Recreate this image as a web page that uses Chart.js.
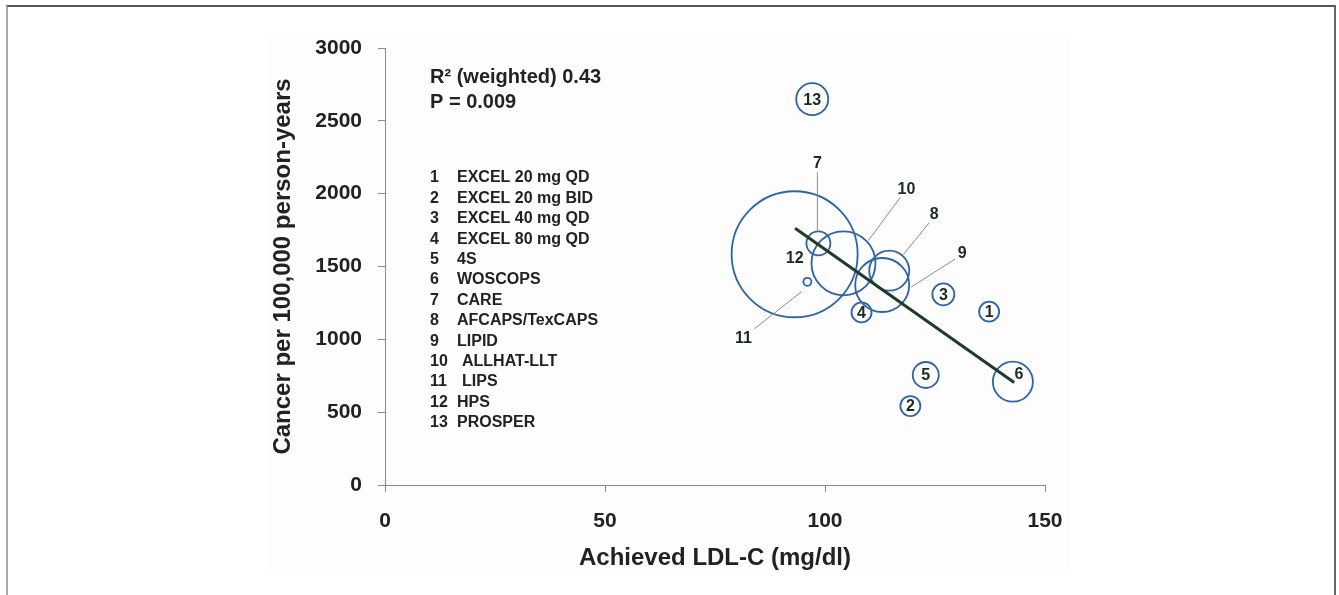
<!DOCTYPE html>
<html>
<head>
<meta charset="utf-8">
<script src="https://cdn.jsdelivr.net/npm/chart.js@4.4.1/dist/chart.umd.min.js"></script>
<style>
  html, body { margin: 0; padding: 0; background: #fff; }
  #wrap { position: relative; width: 1339px; height: 595px; overflow: hidden; }
  #frame {
    position: absolute; left: 6px; top: 5px; width: 1330px; height: 620px;
    box-sizing: border-box;
    border-top: 2px solid #555; border-left: 2px solid #aaa; border-right: 2px solid #666;
  }
  #myChart { position: absolute; left: 0; top: 0; }
</style>
</head>
<body>
<div id="wrap">
  <div id="frame"></div>
  <canvas id="myChart" width="1339" height="595"></canvas>
</div>
<script>
// Statin trials: achieved LDL-C vs cancer incidence, bubble size ~ trial size
const studyIds = [1, 2, 3, 4, 5, 6, 7, 8, 9, 10, 11, 12, 13];
const studyNames = ['EXCEL 20 mg QD', 'EXCEL 20 mg BID', 'EXCEL 40 mg QD', 'EXCEL 80 mg QD', '4S',
  'WOSCOPS', 'CARE', 'AFCAPS/TexCAPS', 'LIPID', 'ALLHAT-LLT', 'LIPS', 'HPS', 'PROSPER'];
const achievedLdl = [137.3, 119.4, 126.9, 108.3, 122.9, 142.7, 98.5, 114.6, 113.0, 104.2, 96.0, 93.1, 97.1];
const cancerRate = [1190, 542, 1309, 1185, 755, 709, 1659, 1471, 1373, 1522, 1395, 1584, 2649];
const bubbleSize = [10, 10, 11, 10, 13, 20, 12, 20, 27, 32, 4, 63, 16];

// weighted regression line end points
const fitLdl = [93.2, 143.0];
const fitCancer = [1762, 703];

const xTicks = [0, 50, 100, 150];
const yTicks = [0, 500, 1000, 1500, 2000, 2500, 3000];
const statLines = ['R\u00B2 (weighted) 0.43', 'P = 0.009'];

const FONT = '"Liberation Sans", Arial, Helvetica, sans-serif';
const INK = '#222';
const NUM_INK = '#1d2a21';

// number placement in px from the bubble centre; a leader line where the number sits outside
const callouts = {
  6: { label: [6, -8] },
  7: { label: [-1, -81], line: [[-1, -12], [-1, -71]] },
  8: { label: [45, -57], line: [[14, -16], [40, -48]] },
  9: { label: [80, -32], line: [[29, 2], [73, -26]] },
  10: { label: [63, -75], line: [[25, -23], [57, -66]] },
  11: { label: [-64, 56], line: [[-6, 10], [-53, 47]] },
  12: { label: [0, 3] }
};

const bubblePoints = studyIds.map((id, i) => ({ x: achievedLdl[i], y: cancerRate[i], r: bubbleSize[i] }));
const fitPoints = fitLdl.map((v, i) => ({ x: v, y: fitCancer[i] }));

const panelBg = {
  id: 'panelBg',
  beforeDraw(chart) {
    const ctx = chart.ctx;
    ctx.save();
    ctx.fillStyle = '#fcfdfc';
    ctx.fillRect(269, 38, 802, 534);
    ctx.restore();
  }
};

const notes = {
  id: 'notes',
  afterDraw(chart) {
    const { ctx, scales: { x, y } } = chart;
    ctx.save();
    ctx.textBaseline = 'middle';

    // study numbers, inside the bubble or at the end of a leader line
    studyIds.forEach((id, i) => {
      const cx = x.getPixelForValue(achievedLdl[i]);
      const cy = y.getPixelForValue(cancerRate[i]);
      const c = callouts[id] || { label: [0, 0] };
      if (c.line) {
        ctx.strokeStyle = '#8c8c8c';
        ctx.lineWidth = 1;
        ctx.beginPath();
        ctx.moveTo(cx + c.line[0][0], cy + c.line[0][1]);
        ctx.lineTo(cx + c.line[1][0], cy + c.line[1][1]);
        ctx.stroke();
      }
      ctx.fillStyle = NUM_INK;
      ctx.font = 'bold 16px ' + FONT;
      ctx.textAlign = 'center';
      ctx.fillText(String(id), cx + c.label[0], cy + c.label[1] + 1);
    });

    // statistics
    ctx.fillStyle = INK;
    ctx.textAlign = 'left';
    ctx.font = 'bold 20px ' + FONT;
    statLines.forEach((t, k) => ctx.fillText(t, 430, 77 + k * 25));

    // study key
    ctx.font = 'bold 16px ' + FONT;
    studyIds.forEach((id, k) => {
      const ty = 178 + k * 20.4;
      ctx.fillText(String(id), 430, ty);
      ctx.fillText(studyNames[k], id === 10 || id === 11 ? 462 : 457, ty);
    });
    ctx.restore();
  }
};

Chart.defaults.font.family = FONT;

new Chart(document.getElementById('myChart'), {
  type: 'bubble',
  data: {
    datasets: [{
      type: 'line',
      data: fitPoints,
      borderColor: '#1f3b2a',
      borderWidth: 3,
      pointRadius: 0,
      fill: false,
      order: 0
    }, {
      data: bubblePoints,
      backgroundColor: 'rgba(0,0,0,0)',
      borderColor: '#2f63a6',
      borderWidth: 1.8,
      order: 1
    }]
  },
  options: {
    responsive: false,
    animation: false,
    events: [],
    layout: { autoPadding: false, padding: { top: 48, left: 262, right: 294, bottom: 10 } },
    plugins: { legend: { display: false }, tooltip: { enabled: false } },
    scales: {
      x: {
        type: 'linear',
        min: 0,
        max: 150,
        afterBuildTicks: s => { s.ticks = xTicks.map(v => ({ value: v })); },
        afterFit: s => { s.height = 100; },
        grid: { drawOnChartArea: false, tickLength: 7, color: '#8a8a8a' },
        border: { color: '#8a8a8a', width: 1 },
        ticks: { padding: 17, color: INK, maxRotation: 0, font: { size: 21, weight: 'bold' } },
        title: {
          display: true,
          text: 'Achieved LDL-C (mg/dl)',
          color: INK,
          font: { size: 24, weight: 'bold' },
          padding: { top: 0, bottom: 12 }
        }
      },
      y: {
        type: 'linear',
        min: 0,
        max: 3000,
        afterBuildTicks: s => { s.ticks = yTicks.map(v => ({ value: v })); },
        afterFit: s => { s.width = 123; },
        grid: { drawOnChartArea: false, tickLength: 7, color: '#8a8a8a' },
        border: { color: '#8a8a8a', width: 1 },
        ticks: { padding: 16, color: INK, font: { size: 21, weight: 'bold' }, callback: v => String(v) },
        title: {
          display: true,
          text: 'Cancer per 100,000 person-years',
          color: INK,
          font: { size: 24, weight: 'bold' },
          padding: { top: 7, bottom: 0 }
        }
      }
    }
  },
  plugins: [panelBg, notes]
});
</script>
</body>
</html>
